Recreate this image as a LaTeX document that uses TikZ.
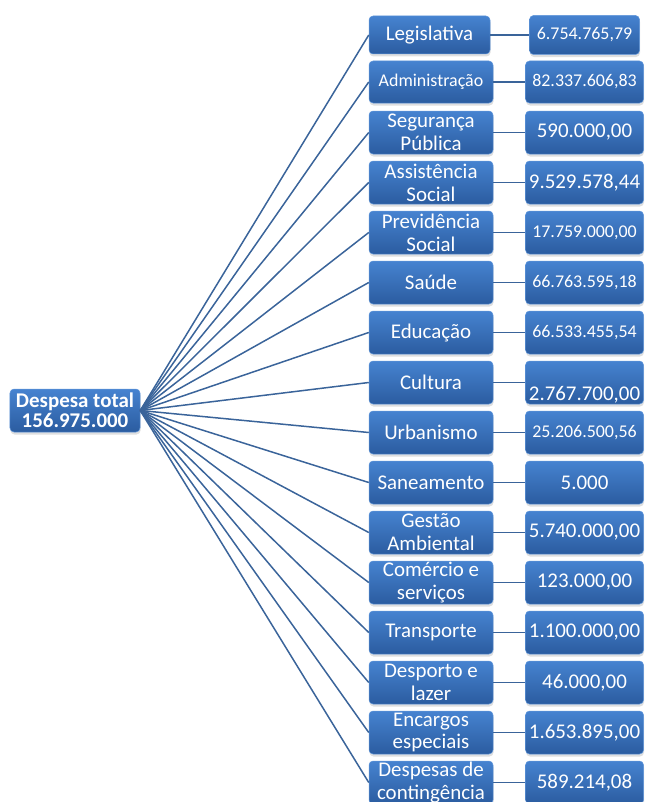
\documentclass[tikz,border=0pt]{standalone}
\usepackage{fontspec}
\setmainfont{Carlito}
\usepackage{tikz}
\usetikzlibrary{positioning}
\usetikzlibrary{shadows}
\definecolor{boxtop}{RGB}{70,131,208}
\definecolor{boxbottom}{RGB}{43,92,160}
\definecolor{boxedge}{RGB}{96,150,218}
\definecolor{linkblue}{RGB}{58,100,154}

\begin{document}
\begin{tikzpicture}[
        x=1bp, y=-1bp,
        node distance=32bp,
        box/.style={draw=boxedge, line width=0.5bp, rounded corners=4bp,
                    top color=boxtop, bottom color=boxbottom,
                    drop shadow={opacity=0.25, shadow xshift=0.5bp, shadow yshift=-2.5bp},
                    text=white, inner sep=0pt, align=center,
                    font=\fontsize{21}{23}\selectfont},
        catbox/.style={box, minimum width=124bp, minimum height=43bp},
        valbox/.style={box, minimum width=118bp, minimum height=43bp},
        smalltext/.style={font=\fontsize{18}{21}\selectfont},
        link/.style={draw=linkblue, line width=1.5bp}
    ]
        \useasboundingbox (0,0) rectangle (645,802);

        \node[box, font=\bfseries\fontsize{21}{20}\selectfont,
              minimum width=130bp, minimum height=43bp] (root) at (75,410.5) {Despesa total\\156.975.000};

        % functions
        \node[catbox, minimum width=121bp, minimum height=38bp] (leg) at (429.5,35) {Legislativa};
        \node[catbox, smalltext, minimum height=42bp] (adm) at (431,82) {Administração};
        \node[catbox] (seg) at (431,132.5) {Segurança\\Pública};
        \node[catbox] (ass) at (431,182.5) {Assistência\\Social};
        \node[catbox] (prev) at (431,232.5) {Previdência\\Social};
        \node[catbox] (sau) at (431,282.5) {Saúde};
        \node[catbox] (edu) at (431,332.5) {Educação};
        \node[catbox] (cul) at (431,382.5) {Cultura};
        \node[catbox] (urb) at (431,432.5) {Urbanismo};
        \node[catbox] (san) at (431,482.5) {Saneamento};
        \node[catbox] (ges) at (431,532.5) {Gestão\\Ambiental};
        \node[catbox] (com) at (431,582.5) {Comércio e\\serviços};
        \node[catbox] (tra) at (431,632.5) {Transporte};
        \node[catbox] (des) at (431,682.5) {Desporto e\\lazer};
        \node[catbox] (enc) at (431,732.5) {Encargos\\especiais};
        \node[catbox] (cont) at (431,782.5) {Despesas de\\contingência};

        % values
        \node[valbox, smalltext, minimum width=110bp, minimum height=39bp, right=39bp of leg] (vleg) {6.754.765,79};
        \node[valbox, smalltext, minimum height=42bp, right=of adm] (vadm) {82.337.606,83};
        \node[valbox, right=of seg] (vseg) {590.000,00};
        \node[valbox, right=of ass] (vass) {9.529.578,44};
        \node[valbox, smalltext, right=of prev] (vprev) {17.759.000,00};
        \node[valbox, smalltext, right=of sau] (vsau) {66.763.595,18};
        \node[valbox, smalltext, right=of edu] (vedu) {66.533.455,54};
        \node[valbox, right=of cul] (vcul) {\raisebox{-12bp}[\height][\depth]{2.767.700,00}};
        \node[valbox, smalltext, right=of urb] (vurb) {25.206.500,56};
        \node[valbox, right=of san] (vsan) {5.000};
        \node[valbox, right=of ges] (vges) {5.740.000,00};
        \node[valbox, right=of com] (vcom) {123.000,00};
        \node[valbox, right=of tra] (vtra) {1.100.000,00};
        \node[valbox, right=of des] (vdes) {46.000,00};
        \node[valbox, right=of enc] (venc) {1.653.895,00};
        \node[valbox, right=of cont] (vcont) {589.214,08};

        \draw[link] (root.east) -- (leg.west);
        \draw[link] (root.east) -- (adm.west);
        \draw[link] (root.east) -- (seg.west);
        \draw[link] (root.east) -- (ass.west);
        \draw[link] (root.east) -- (prev.west);
        \draw[link] (root.east) -- (sau.west);
        \draw[link] (root.east) -- (edu.west);
        \draw[link] (root.east) -- (cul.west);
        \draw[link] (root.east) -- (urb.west);
        \draw[link] (root.east) -- (san.west);
        \draw[link] (root.east) -- (ges.west);
        \draw[link] (root.east) -- (com.west);
        \draw[link] (root.east) -- (tra.west);
        \draw[link] (root.east) -- (des.west);
        \draw[link] (root.east) -- (enc.west);
        \draw[link] (root.east) -- (cont.west);

        \draw[link] (leg) -- (vleg);
        \draw[link] (adm) -- (vadm);
        \draw[link] (seg) -- (vseg);
        \draw[link] (ass) -- (vass);
        \draw[link] (prev) -- (vprev);
        \draw[link] (sau) -- (vsau);
        \draw[link] (edu) -- (vedu);
        \draw[link] (cul) -- (vcul);
        \draw[link] (urb) -- (vurb);
        \draw[link] (san) -- (vsan);
        \draw[link] (ges) -- (vges);
        \draw[link] (com) -- (vcom);
        \draw[link] (tra) -- (vtra);
        \draw[link] (des) -- (vdes);
        \draw[link] (enc) -- (venc);
        \draw[link] (cont) -- (vcont);
\end{tikzpicture}
\end{document}
